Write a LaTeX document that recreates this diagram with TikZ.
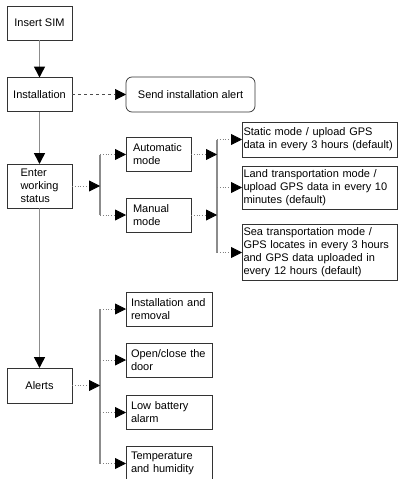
\documentclass[tikz,border=0pt]{standalone}
\usepackage{fontspec}
\setmainfont{Liberation Sans}
\usetikzlibrary{arrows.meta}
\usetikzlibrary{calc}

\begin{document}
\begin{tikzpicture}[x=1pt, y=-1pt, outer sep=0pt]
          \newcommand{\colA}{7}
          \newcommand{\colB}{126}
          \newcommand{\colC}{242}
          \newcommand{\forkA}{100}
          \newcommand{\forkB}{217}
          \newcommand{\tipsize}{length=11pt,width=11pt,color=black}

          \tikzstyle{nodet}=[
            draw=black!80,
            rectangle,
            line width=0.7pt,
            minimum height=34pt,
            anchor=west,
            font=\fontsize{11}{13}\selectfont
          ]
          \tikzstyle{mainbox}=[nodet, minimum width=65pt, inner xsep=0pt, align=left]
          \tikzstyle{modebox}=[nodet, text width=51pt, inner xsep=7pt, align=left]
          \tikzstyle{gpsbox}=[nodet, text width=152pt, inner xsep=1.5pt, align=left]
          \tikzstyle{alertbox}=[nodet, text width=76pt, inner xsep=5pt, align=left]
          \tikzstyle{trunk}=[draw=black!45, line width=1.5pt]
          \tikzstyle{arrow}=[trunk, -{Triangle[\tipsize]}]
          \tikzstyle{dots}=[draw=black!50, line width=0.8pt, dotted, -{Triangle[\tipsize]}]
          \tikzstyle{dashes}=[draw=black!70, line width=0.7pt, dash pattern=on 3pt off 3pt, -{Triangle[\tipsize]}]

          \useasboundingbox (0,0) rectangle (398,479);

          % left column
          \node[mainbox, align=center] (sim) at (\colA,23) {Insert SIM};
          \node[mainbox, align=center] (inst) at (\colA,94.5) {Installation};
          \node[mainbox, minimum height=44pt] (work) at (\colA,186) {Enter\\working\\status};
          \node[mainbox, align=center, minimum height=35pt] (alerts) at (\colA,385.5) {Alerts};

          \node[nodet, rounded corners=6pt, minimum width=129pt, minimum height=35pt] (salert) at (\colB,94.5) {Send installation alert};

          % working modes
          \node[modebox] (auto) at (\colB,154.5) {Automatic\\mode};
          \node[modebox] (manual) at (\colB,215) {Manual\\mode};

          \node[gpsbox, minimum height=35pt] (static) at (\colC,139.5) {Static mode / upload GPS\\data in every 3 hours (default)};
          \node[gpsbox, minimum height=41pt] (land) at (\colC,187.5) {Land transportation mode /\\upload GPS data in every 10\\minutes (default)};
          \node[gpsbox, minimum height=55pt] (sea) at (\colC,252.5) {Sea transportation mode /\\GPS locates in every 3 hours\\and GPS data uploaded in\\every 12 hours (default)};

          % alerts
          \node[alertbox] (ainst) at (\colB,309) {Installation and\\removal};
          \node[alertbox] (door) at (\colB,360) {Open/close the\\door};
          \node[alertbox] (batt) at (\colB,412.5) {Low battery\\alarm};
          \node[alertbox, minimum height=35pt] (temp) at (\colB,463.5) {Temperature\\and humidity};

          \coordinate (wfork) at (\forkA,186);
          \coordinate (mfork) at (\forkB,184.75);
          \coordinate (afork) at (\forkA,385.5);

          \draw[arrow] (sim) -- (inst);
          \draw[dashes] (inst) -- (salert);
          \draw[arrow] (inst) -- (work);
          \draw[arrow] (work) -- (alerts);

          \draw[trunk] (wfork |- auto.west) -- (wfork |- manual.west);
          \draw[dots] (work) -- (wfork);
          \draw[dots] (wfork |- auto.west) -- (auto.west);
          \draw[dots] (wfork |- manual.west) -- (manual.west);

          \draw[trunk] (mfork |- static.west) -- (mfork |- sea.west);
          \draw[dots] (auto.east) -- (mfork |- auto.east);
          \draw[dots] (manual.east) -- (mfork |- manual.east);
          \draw[dots] (mfork |- static.west) -- (static.west);
          \draw[dots] (mfork |- land.west) -- (land.west);
          \draw[dots] (mfork |- sea.west) -- (sea.west);

          \draw[trunk] (afork |- ainst.west) -- (afork |- temp.west);
          \draw[dots] (alerts) -- (afork);
          \draw[dots] (afork |- ainst.west) -- (ainst.west);
          \draw[dots] (afork |- door.west) -- (door.west);
          \draw[dots] (afork |- batt.west) -- (batt.west);
          \draw[dots] (afork |- temp.west) -- (temp.west);

        \end{tikzpicture}
\end{document}
